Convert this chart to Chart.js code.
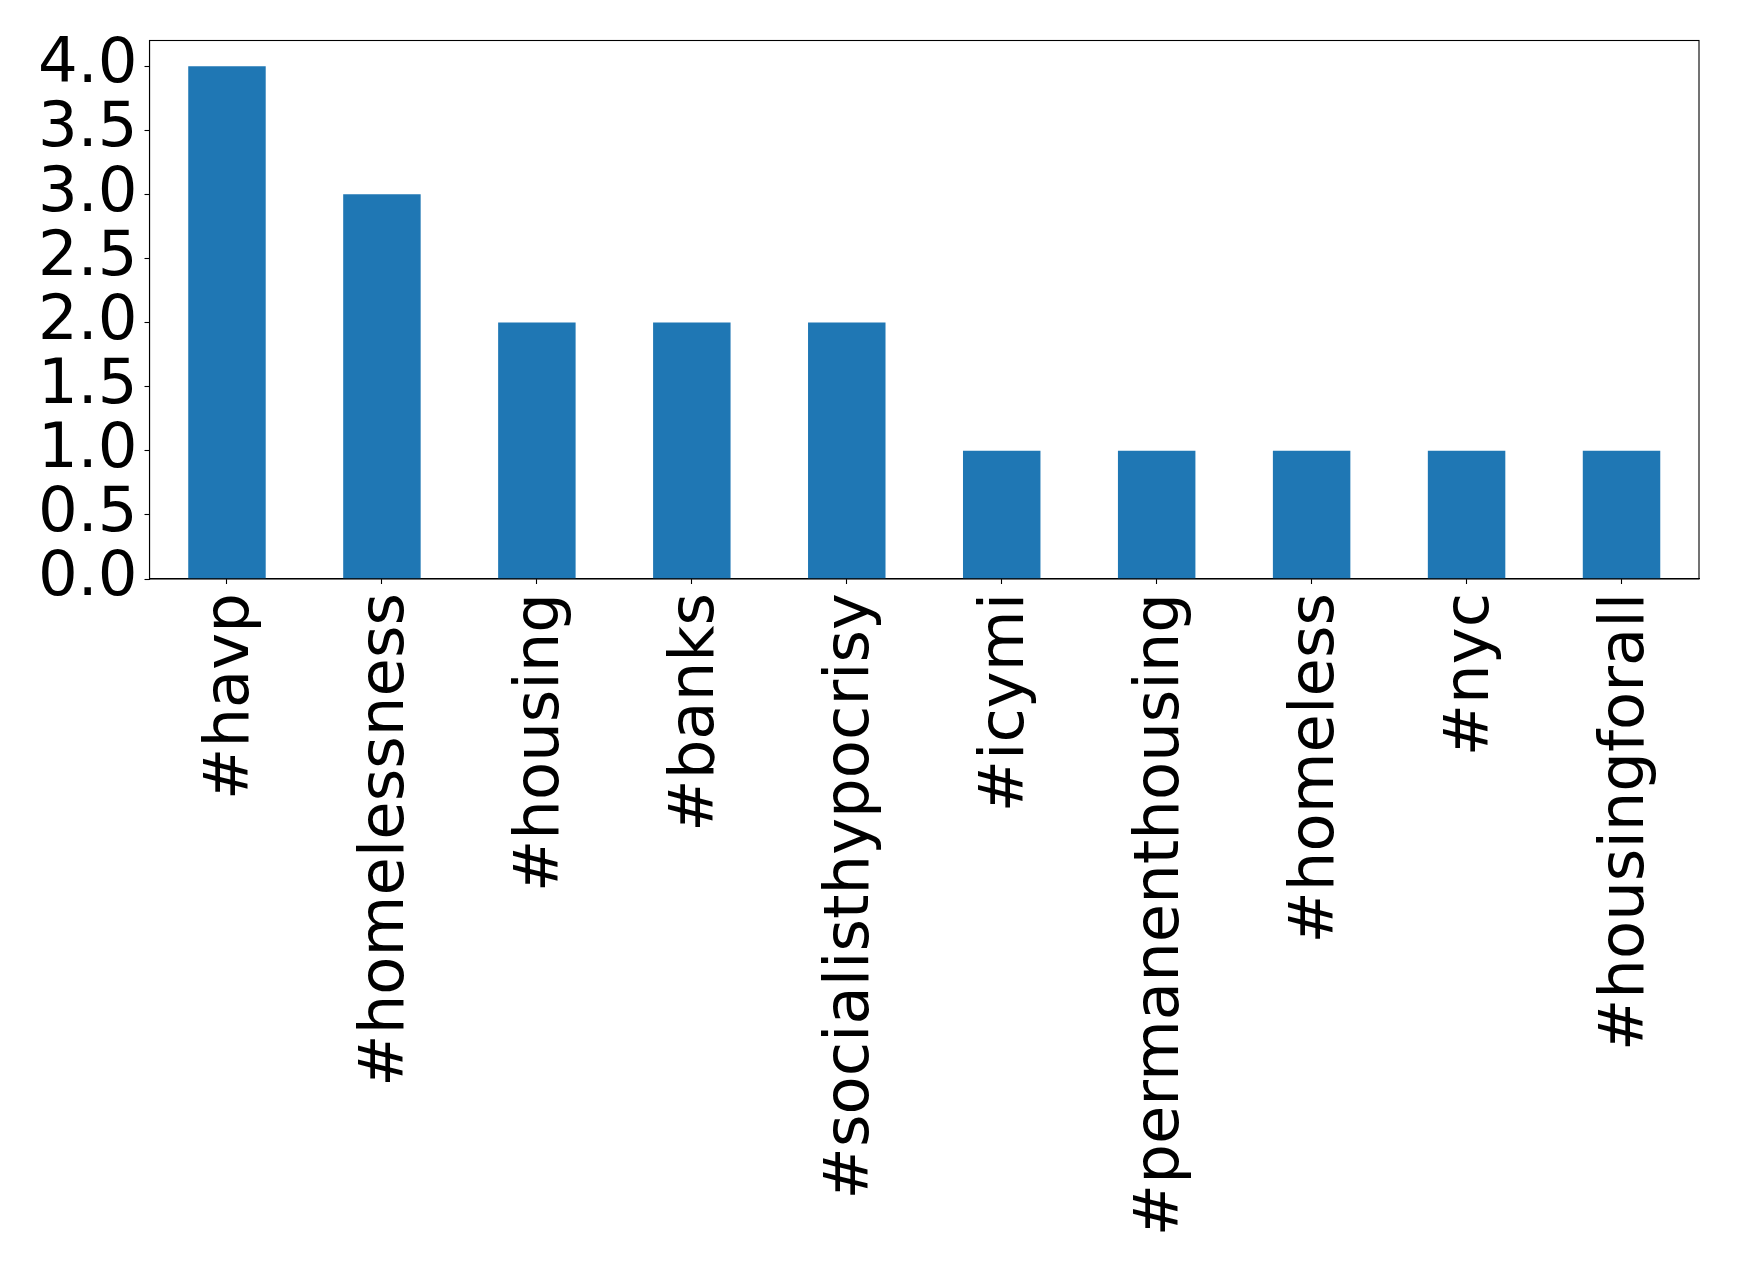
<!DOCTYPE html>
<html>
<head>
<meta charset="utf-8">
<script src="https://cdn.jsdelivr.net/npm/chart.js@4/dist/chart.umd.min.js"></script>
<style>
  html, body { margin: 0; padding: 0; background: #fff; }
  #wrap { width: 1739px; height: 1271px; }
</style>
</head>
<body>
<div id="wrap"><canvas id="myChart" width="1739" height="1271"></canvas></div>
<script>
let labels1 = ['#havp', '#homelessness', '#housing', '#banks', '#socialisthypocrisy',
               '#icymi', '#permanenthousing', '#homeless', '#nyc', '#housingforall'];
let data1 = [4, 3, 2, 2, 2, 1, 1, 1, 1, 1];
let yTicks = [0, 0.5, 1.0, 1.5, 2.0, 2.5, 3.0, 3.5, 4.0];

// frame around the plot, like matplotlib's spines
let frame = {
    id: 'frame',
    afterDraw(chart) {
        let a = chart.chartArea;
        let ctx = chart.ctx;
        ctx.save();
        ctx.strokeStyle = '#000';
        ctx.lineWidth = 1.1;
        ctx.strokeRect(a.left, a.top, a.right - a.left, a.bottom - a.top);
        ctx.restore();
    }
};

let font = { family: 'DejaVu Sans', size: 62.5 };

let chart = new Chart(document.getElementById('myChart').getContext('2d'), {
    type: 'bar',
    data: {
        labels: labels1,
        datasets: [{
            data: data1,
            backgroundColor: '#1f77b4',
            barPercentage: 0.5,
            categoryPercentage: 1.0
        }]
    },
    options: {
        responsive: false,
        animation: false,
        layout: { padding: { top: 40.5, right: 40, left: 0, bottom: 0 } },
        plugins: { legend: { display: false }, tooltip: { enabled: false } },
        scales: {
            x: {
                offset: true,
                grid: { display: true, drawOnChartArea: false, offset: false, tickLength: 5, tickColor: '#000', tickWidth: 1.1 },
                border: { display: true, color: '#000', width: 1.1 },
                ticks: { color: '#000', font: font, autoSkip: false, minRotation: 90, maxRotation: 90, padding: 9, labelOffset: 5 },
                afterFit(scale) {
                    scale.height = 1271 - 579;
                    scale.paddingLeft = 0;
                    scale.paddingRight = 0;
                }
            },
            y: {
                min: 0,
                max: 4.2,
                grid: { display: true, drawOnChartArea: false, tickLength: 5, tickColor: '#000', tickWidth: 1.1 },
                border: { display: true, color: '#000', width: 1.1 },
                afterBuildTicks(scale) { scale.ticks = yTicks.map(v => ({ value: v })); },
                ticks: {
                    color: '#000', font: font, padding: 7, autoSkip: false,
                    callback: v => Number(v).toFixed(1)
                },
                afterFit(scale) {
                    scale.width = 149.5;
                    scale.paddingTop = 0;
                    scale.paddingBottom = 0;
                }
            }
        }
    },
    plugins: [frame]
});
</script>
</body>
</html>
